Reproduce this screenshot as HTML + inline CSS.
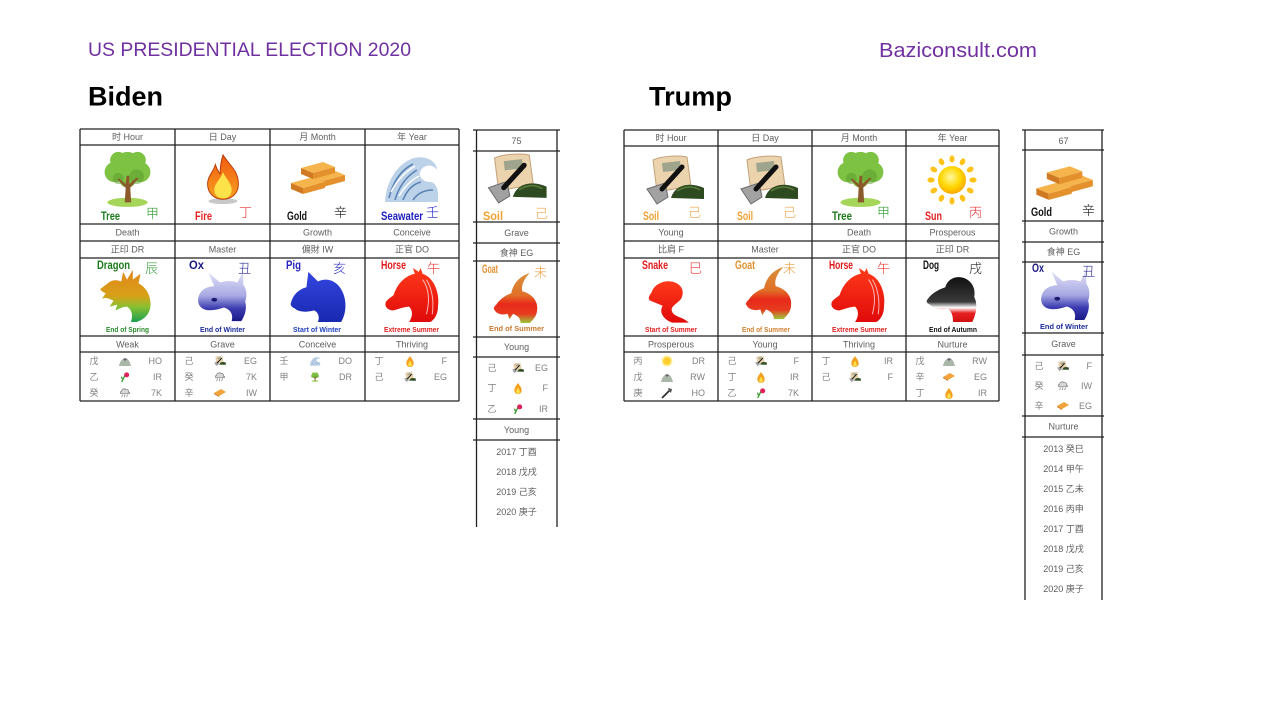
<!DOCTYPE html>
<html><head><meta charset="utf-8">
<style>
html,body{margin:0;padding:0;background:#fff;}
svg{display:block;}
.s{font-family:"Liberation Sans","Noto Sans CJK SC",sans-serif;font-size:9px;fill:#5e5e5e;text-anchor:middle;dominant-baseline:central;}
.h{font-family:"Liberation Sans","Noto Sans CJK SC",sans-serif;font-size:9px;fill:#808080;dominant-baseline:central;}
.hc{text-anchor:middle;}
.e{text-anchor:end;}
.lb{font-family:"Liberation Sans Narrow","Liberation Sans",sans-serif;font-weight:bold;font-size:11.5px;}
.cj{font-family:"Noto Sans CJK SC",sans-serif;font-size:13px;font-weight:300;}
.sub{font-family:"Liberation Sans Narrow","Liberation Sans",sans-serif;font-weight:bold;font-size:7.5px;text-anchor:middle;}
.ln line{stroke:#222;stroke-width:1.3;}
</style></head><body>
<svg width="1280" height="720" viewBox="0 0 1280 720" xmlns="http://www.w3.org/2000/svg">
<defs>
<linearGradient id="gDragon" x1="0" y1="0" x2="0" y2="1"><stop offset="0" stop-color="#e0861a"/><stop offset="0.5" stop-color="#d8a018"/><stop offset="0.7" stop-color="#8cc030"/><stop offset="1" stop-color="#1aa050"/></linearGradient>
<linearGradient id="gOx" x1="0" y1="0" x2="0" y2="1"><stop offset="0" stop-color="#e4e4f8"/><stop offset="0.5" stop-color="#a8a8e4"/><stop offset="0.75" stop-color="#3c3cb0"/><stop offset="1" stop-color="#1a1a88"/></linearGradient>
<linearGradient id="gPig" x1="0" y1="0" x2="0" y2="1"><stop offset="0" stop-color="#3446e0"/><stop offset="1" stop-color="#1828b0"/></linearGradient>
<linearGradient id="gRed" x1="0" y1="0" x2="0" y2="1"><stop offset="0" stop-color="#ff3a1a"/><stop offset="1" stop-color="#e00a0a"/></linearGradient>
<linearGradient id="gGoat" x1="0" y1="0" x2="0" y2="1"><stop offset="0" stop-color="#d8903a"/><stop offset="0.45" stop-color="#e07028"/><stop offset="0.62" stop-color="#e82a1a"/><stop offset="0.82" stop-color="#e83a20"/><stop offset="1" stop-color="#9cc83a"/></linearGradient>
<linearGradient id="gDog" x1="0" y1="0" x2="0" y2="1"><stop offset="0" stop-color="#111"/><stop offset="0.55" stop-color="#3a3a3a"/><stop offset="0.68" stop-color="#fff"/><stop offset="0.8" stop-color="#e82020"/><stop offset="1" stop-color="#d01010"/></linearGradient>
<linearGradient id="gFire" x1="0" y1="0" x2="0" y2="1"><stop offset="0" stop-color="#f05a10"/><stop offset="1" stop-color="#f8a020"/></linearGradient>
<radialGradient id="gSun" cx="0.45" cy="0.4" r="0.6"><stop offset="0" stop-color="#fff8a0"/><stop offset="0.6" stop-color="#ffd700"/><stop offset="1" stop-color="#ffa800"/></radialGradient>

<symbol id="tree" viewBox="0 0 60 64">
<ellipse cx="30" cy="58" rx="22" ry="5" fill="#a5d65a"/>
<g fill="#7dc243"><circle cx="30" cy="17" r="14"/><circle cx="16" cy="25" r="11"/><circle cx="44" cy="25" r="11"/><circle cx="20" cy="12" r="9"/><circle cx="41" cy="12" r="9"/><circle cx="30" cy="33" r="9"/></g>
<g fill="#5e9e30" opacity="0.55"><circle cx="40" cy="30" r="8"/><circle cx="20" cy="32" r="6"/></g>
<path d="M27,58 L28,42 L19,33 L21,32 L28,38 L29,29 L32,29 L32,38 L40,31 L42,32 L33,42 L34,58 Z" fill="#8b5a2b"/>
</symbol>
<symbol id="fire" viewBox="0 0 40 54">
<ellipse cx="20" cy="50" rx="15" ry="3" fill="#c8c8c8"/>
<path d="M20,2 C26,12 36,18 36,32 C36,42 29,48 20,48 C11,48 4,42 4,32 C4,24 10,20 12,12 C14,18 16,20 17,22 C17,14 18,8 20,2 Z" fill="url(#gFire)" stroke="#b83a08" stroke-width="1"/>
<path d="M20,20 C24,28 29,32 29,38 C29,44 25,47 20,47 C15,47 11,44 11,38 C11,32 17,28 20,20 Z" fill="#fde24a"/>
</symbol>
<symbol id="bar" viewBox="0 0 34 18"><path d="M0,6 L22,0 L34,5 L12,11 Z" fill="#f6b44c"/><path d="M0,6 L12,11 L12,17 L0,12 Z" fill="#cf7a22"/><path d="M12,11 L34,5 L34,11 L12,17 Z" fill="#e4902c"/></symbol>
<symbol id="gold" viewBox="0 0 60 40"><use href="#bar" x="24" y="14" width="34" height="18"/><use href="#bar" x="4" y="21" width="34" height="18"/><use href="#bar" x="14" y="6" width="34" height="18"/></symbol>
<symbol id="wave" viewBox="0 0 56 52">
<path d="M2,50 C3,32 12,14 28,7 C40,2 54,8 54,18 C50,12 42,12 38,18 C34,24 40,30 47,30 C52,30 55,36 55,42 L55,50 Z" fill="#bcd2e8"/>
<path d="M6,46 C10,30 18,18 30,12 M12,48 C16,34 24,24 34,18 M20,48 C24,38 30,32 38,30 M30,48 C34,42 40,38 50,38" stroke="#5a82b4" stroke-width="1.6" fill="none"/>
<path d="M8,40 C14,28 22,20 32,14 M16,44 C22,34 28,28 36,24" stroke="#fff" stroke-width="1.4" fill="none"/>
</symbol>
<symbol id="soil" viewBox="0 0 60 50">
<path d="M8,5 C16,1 34,0 42,2 L46,31 L12,37 Z" fill="#ead3ad" stroke="#c4a27a" stroke-width="1"/>
<path d="M17,8 L35,6 L36,15 L18,17 Z" fill="#9ea58c"/>
<path d="M26,43 C30,29 46,27 59,33 L59,44 Z" fill="#2e4a20"/>
<path d="M32,36 C40,31 48,31 55,35" stroke="#5a7a3a" stroke-width="1.5" fill="none"/>
<path d="M2,34 L20,28 L23,42 L12,49 Z" fill="#a2a2a2" stroke="#6a6a6a" stroke-width="1"/>
<line x1="17" y1="34" x2="37" y2="12" stroke="#111" stroke-width="5" stroke-linecap="round"/>
</symbol>
<symbol id="sun" viewBox="0 0 50 50">
<g fill="#ffc21a">
<ellipse cx="25" cy="4" rx="2.6" ry="3.6"/>
<ellipse cx="25" cy="4" rx="2.6" ry="3.6" transform="rotate(30 25 25)"/>
<ellipse cx="25" cy="4" rx="2.6" ry="3.6" transform="rotate(60 25 25)"/>
<ellipse cx="25" cy="4" rx="2.6" ry="3.6" transform="rotate(90 25 25)"/>
<ellipse cx="25" cy="4" rx="2.6" ry="3.6" transform="rotate(120 25 25)"/>
<ellipse cx="25" cy="4" rx="2.6" ry="3.6" transform="rotate(150 25 25)"/>
<ellipse cx="25" cy="4" rx="2.6" ry="3.6" transform="rotate(180 25 25)"/>
<ellipse cx="25" cy="4" rx="2.6" ry="3.6" transform="rotate(210 25 25)"/>
<ellipse cx="25" cy="4" rx="2.6" ry="3.6" transform="rotate(240 25 25)"/>
<ellipse cx="25" cy="4" rx="2.6" ry="3.6" transform="rotate(270 25 25)"/>
<ellipse cx="25" cy="4" rx="2.6" ry="3.6" transform="rotate(300 25 25)"/>
<ellipse cx="25" cy="4" rx="2.6" ry="3.6" transform="rotate(330 25 25)"/>
</g>
<circle cx="25" cy="25" r="14" fill="url(#gSun)"/>
</symbol>
<symbol id="dragon" viewBox="0 0 60 56"><path d="M2,22 L10,16 C14,12 20,12 24,14 L26,4 L30,12 L36,2 L36,12 L44,6 L42,16 C50,20 56,30 54,42 C52,50 46,54 40,56 L34,56 C36,50 36,44 30,40 C26,40 22,42 18,44 L20,38 L12,40 L16,34 C12,32 8,30 4,32 L8,26 C6,26 4,24 2,22 Z" fill="url(#gDragon)"/></symbol>
<symbol id="ox" viewBox="0 0 60 56"><path d="M6,30 C8,24 14,20 22,20 L16,6 L28,16 C34,14 40,14 46,16 L52,4 L52,18 C56,24 56,30 54,36 C56,42 54,50 50,56 L40,56 C42,48 38,44 32,42 C26,44 18,46 12,44 C6,42 4,36 6,30 Z" fill="url(#gOx)"/><ellipse cx="22" cy="34" rx="3" ry="2" fill="#1a1a70"/></symbol>
<symbol id="pig" viewBox="0 0 60 56"><path d="M2,36 C4,28 10,22 18,20 L20,4 L30,14 C38,10 48,12 54,22 C60,32 60,46 54,56 L30,56 C32,50 30,46 26,44 C20,46 10,46 6,42 C2,40 1,38 2,36 Z" fill="url(#gPig)"/></symbol>
<symbol id="horse" viewBox="0 0 60 56"><path d="M12,28 C16,16 24,8 34,6 L32,0 L38,4 L40,0 L42,6 C54,10 60,26 58,40 C58,48 54,54 50,56 L28,56 C32,50 32,44 28,40 C24,40 18,42 12,44 C6,44 2,40 4,35 C6,32 10,30 12,28 Z" fill="url(#gRed)"/><path d="M42,12 C48,20 50,32 46,48 M46,12 C52,22 54,34 52,48" stroke="#fff" stroke-width="1" fill="none" opacity="0.7"/></symbol>
<symbol id="snake" viewBox="0 0 60 56"><path d="M8,24 C10,16 20,10 30,12 C40,14 44,22 40,30 C36,36 28,38 30,44 C32,50 42,50 48,56 L30,56 C20,52 16,44 20,38 C16,36 10,34 6,32 C4,30 6,26 8,24 Z" fill="url(#gRed)"/></symbol>
<symbol id="goat" viewBox="0 0 60 56"><path d="M10,36 C14,30 20,26 26,24 C28,14 34,6 46,2 C40,8 36,16 38,22 C46,24 54,30 54,40 C54,48 50,52 46,56 L36,56 C36,50 32,48 28,46 L24,52 L22,46 C16,48 10,46 8,42 C6,40 8,38 10,36 Z" fill="url(#gGoat)"/></symbol>
<symbol id="dog" viewBox="0 0 60 56"><path d="M4,32 C8,26 16,22 22,20 C24,12 32,8 40,10 C48,12 54,20 52,30 C56,38 54,48 50,56 L30,56 C30,48 28,44 24,42 C18,44 10,42 6,38 C2,36 2,34 4,32 Z" fill="url(#gDog)"/></symbol>
<symbol id="mtn" viewBox="0 0 12 10"><path d="M0,10 C1,5 4,2 6,3 C8,1 11,5 12,10 Z" fill="#aab7a8"/><path d="M4,3 C5,2 7,2 8,3 L6,5 Z" fill="#667"/></symbol>
<symbol id="flower" viewBox="0 0 12 12"><path d="M2,12 L6,4" stroke="#3a9a30" stroke-width="1.6"/><path d="M3,9 C1,8 1,6 2,5 C3,7 4,8 3,9Z" fill="#3a9a30"/><circle cx="8" cy="3.5" r="3" fill="#e0205a"/></symbol>
<symbol id="rain" viewBox="0 0 12 12"><path d="M2,7 C0,7 0,4 2,4 C2,1 6,0 7,2 C9,1 11,3 10,5 C12,5 12,7 10,7 Z" fill="#d8d8d8" stroke="#777" stroke-width="0.8"/><path d="M3,8 L2,11 M6,8 L5,11 M9,8 L8,11" stroke="#777" stroke-width="0.8"/></symbol>
<symbol id="axe" viewBox="0 0 12 12"><path d="M1,11 L9,3" stroke="#333" stroke-width="1.8"/><path d="M7,1 L11,2 L10,6 L8,4 Z" fill="#555"/></symbol>
<symbol id="sgold" viewBox="0 0 12 8"><path d="M0,4 L7,0 L12,3 L5,7 Z" fill="#f2a33a"/><path d="M0,4 L5,7 L5,8 L0,5Z" fill="#c87020"/></symbol>
<symbol id="sfire" viewBox="0 0 10 12"><path d="M5,0 C7,3 9,5 9,8 C9,10.5 7,12 5,12 C3,12 1,10.5 1,8 C1,5 3,3 5,0 Z" fill="#f5a020"/><path d="M5,5 C6,7 7,8 7,9 C7,11 6,11.5 5,11.5 C4,11.5 3,11 3,9 C3,8 4,7 5,5Z" fill="#fde04a"/></symbol>
<symbol id="ssun" viewBox="0 0 12 12"><circle cx="6" cy="6" r="5.5" fill="#fff0a0"/><circle cx="6" cy="6" r="4" fill="#ffd030"/></symbol>
</defs>

<!-- Titles -->
<text x="88" y="56" font-family="Liberation Sans, sans-serif" font-size="19.5" fill="#7030a0" textLength="323" lengthAdjust="spacingAndGlyphs">US PRESIDENTIAL ELECTION 2020</text>
<text x="879" y="57" font-family="Liberation Sans, sans-serif" font-size="20.5" fill="#7030a0" textLength="158" lengthAdjust="spacingAndGlyphs">Baziconsult.com</text>
<text x="88" y="105.5" font-family="Liberation Sans, sans-serif" font-weight="bold" font-size="27" fill="#000" textLength="75" lengthAdjust="spacingAndGlyphs">Biden</text>
<text x="649" y="105.5" font-family="Liberation Sans, sans-serif" font-weight="bold" font-size="27" fill="#000" textLength="83" lengthAdjust="spacingAndGlyphs">Trump</text>

<!-- ============ BIDEN TABLE ============ -->
<g class="ln">
<line x1="80" y1="129" x2="459" y2="129"/><line x1="80" y1="145" x2="459" y2="145"/><line x1="80" y1="224" x2="459" y2="224"/><line x1="80" y1="241" x2="459" y2="241"/><line x1="80" y1="258" x2="459" y2="258"/><line x1="80" y1="336" x2="459" y2="336"/><line x1="80" y1="352" x2="459" y2="352"/><line x1="80" y1="401" x2="459" y2="401"/>
<line x1="80" y1="129" x2="80" y2="401"/><line x1="175" y1="129" x2="175" y2="401"/><line x1="270" y1="129" x2="270" y2="401"/><line x1="365" y1="129" x2="365" y2="401"/><line x1="459" y1="129" x2="459" y2="401"/>
</g>
<text class="s" x="127.5" y="137">时 Hour</text>
<text class="s" x="222.5" y="137">日 Day</text>
<text class="s" x="317.5" y="137">月 Month</text>
<text class="s" x="412" y="137">年 Year</text>

<use href="#tree" x="100" y="149" width="55" height="59"/>
<use href="#fire" x="203" y="153" width="40" height="52"/>
<use href="#gold" x="287" y="156" width="60" height="40"/>
<use href="#wave" x="383" y="152" width="56" height="52"/>

<text class="lb" x="101" y="220" textLength="19" lengthAdjust="spacingAndGlyphs" fill="#1c7a1c">Tree</text>
<text class="cj" x="146" y="218" fill="#2a9a2a">甲</text>
<text class="lb" x="195" y="220" textLength="17" lengthAdjust="spacingAndGlyphs" fill="#e82020">Fire</text>
<text class="cj" x="239" y="217" fill="#e83030">丁</text>
<text class="lb" x="287" y="220" textLength="20" lengthAdjust="spacingAndGlyphs" fill="#111">Gold</text>
<text class="cj" x="334" y="217" fill="#111">辛</text>
<text class="lb" x="381" y="220" textLength="42" lengthAdjust="spacingAndGlyphs" fill="#1c1cc0">Seawater</text>
<text class="cj" x="426" y="217" fill="#2020c8">壬</text>

<text class="s" x="127.5" y="232.5">Death</text>
<text class="s" x="317.5" y="232.5">Growth</text>
<text class="s" x="412" y="232.5">Conceive</text>
<text class="s" x="127.5" y="249.5">正印 DR</text>
<text class="s" x="222.5" y="249.5">Master</text>
<text class="s" x="317.5" y="249.5">偏財 IW</text>
<text class="s" x="412" y="249.5">正官 DO</text>

<use href="#dragon" x="98" y="268" width="58" height="54"/>
<use href="#ox" x="193" y="266" width="58" height="56"/>
<use href="#pig" x="289" y="268" width="58" height="54"/>
<use href="#horse" x="382" y="268" width="58" height="54"/>

<text class="lb" x="97" y="269" textLength="33" lengthAdjust="spacingAndGlyphs" fill="#1c7a1c">Dragon</text>
<text class="cj" x="145" y="273" fill="#3a9a3a">辰</text>
<text class="lb" x="189" y="269" textLength="15" lengthAdjust="spacingAndGlyphs" fill="#1a1a80">Ox</text>
<text class="cj" x="238" y="273" fill="#2a2a90">丑</text>
<text class="lb" x="286" y="269" textLength="15" lengthAdjust="spacingAndGlyphs" fill="#2828c0">Pig</text>
<text class="cj" x="333" y="273" fill="#3030c0">亥</text>
<text class="lb" x="381" y="269" textLength="25" lengthAdjust="spacingAndGlyphs" fill="#e01818">Horse</text>
<text class="cj" x="427" y="273" fill="#e83030">午</text>

<text class="sub" x="127.5" y="332" textLength="43" lengthAdjust="spacingAndGlyphs" fill="#2a8a2a">End of Spring</text>
<text class="sub" x="222.5" y="332" textLength="45" lengthAdjust="spacingAndGlyphs" fill="#1a2a9a">End of Winter</text>
<text class="sub" x="317" y="332" textLength="48" lengthAdjust="spacingAndGlyphs" fill="#2040c0">Start of Winter</text>
<text class="sub" x="411.5" y="332" textLength="55" lengthAdjust="spacingAndGlyphs" fill="#e02020">Extreme Summer</text>

<text class="s" x="127.5" y="344.5">Weak</text>
<text class="s" x="222.5" y="344.5">Grave</text>
<text class="s" x="317.5" y="344.5">Conceive</text>
<text class="s" x="412" y="344.5">Thriving</text>

<!-- Biden hidden stems -->
<text class="h hc" x="94" y="361">戊</text><use href="#mtn" x="119" y="356" width="12" height="10"/><text class="h e" x="162" y="361">HO</text>
<text class="h hc" x="94" y="377">乙</text><use href="#flower" x="119" y="372" width="12" height="10"/><text class="h e" x="162" y="377">IR</text>
<text class="h hc" x="94" y="393">癸</text><use href="#rain" x="119" y="388" width="12" height="10"/><text class="h e" x="162" y="393">7K</text>

<text class="h hc" x="189" y="361">己</text><use href="#soil" x="214" y="356" width="12" height="10"/><text class="h e" x="257" y="361">EG</text>
<text class="h hc" x="189" y="377">癸</text><use href="#rain" x="214" y="372" width="12" height="10"/><text class="h e" x="257" y="377">7K</text>
<text class="h hc" x="189" y="393">辛</text><use href="#sgold" x="214" y="389" width="12" height="8"/><text class="h e" x="257" y="393">IW</text>

<text class="h hc" x="284" y="361">壬</text><use href="#wave" x="309" y="356" width="12" height="10"/><text class="h e" x="352" y="361">DO</text>
<text class="h hc" x="284" y="377">甲</text><use href="#tree" x="309" y="372" width="12" height="10"/><text class="h e" x="352" y="377">DR</text>

<text class="h hc" x="379" y="361">丁</text><use href="#sfire" x="405" y="356" width="10" height="11"/><text class="h e" x="447" y="361">F</text>
<text class="h hc" x="379" y="377">己</text><use href="#soil" x="404" y="372" width="12" height="10"/><text class="h e" x="447" y="377">EG</text>

<!-- Biden side column -->
<g class="ln">
<line x1="473" y1="130" x2="560" y2="130"/><line x1="473" y1="151" x2="560" y2="151"/><line x1="473" y1="222" x2="560" y2="222"/><line x1="473" y1="243" x2="560" y2="243"/><line x1="473" y1="261" x2="560" y2="261"/><line x1="473" y1="337" x2="560" y2="337"/><line x1="473" y1="357" x2="560" y2="357"/><line x1="473" y1="419" x2="560" y2="419"/><line x1="473" y1="440" x2="560" y2="440"/>
<line x1="476.5" y1="130" x2="476.5" y2="527"/><line x1="557" y1="130" x2="557" y2="527"/>
</g>
<text class="s" x="516.5" y="141">75</text>
<use href="#soil" x="486" y="153" width="62" height="51"/>
<text class="lb" x="483" y="220" textLength="20" lengthAdjust="spacingAndGlyphs" fill="#f0a030">Soil</text>
<text class="cj" x="535" y="218" fill="#f0a040">己</text>
<text class="s" x="516.5" y="233">Grave</text>
<text class="s" x="516.5" y="253">食神 EG</text>
<use href="#goat" x="485" y="271" width="60" height="52"/>
<text class="lb" x="482" y="273" textLength="16" lengthAdjust="spacingAndGlyphs" fill="#e09030">Goat</text>
<text class="cj" x="534" y="277" fill="#e8a040">未</text>
<text class="sub" x="516.5" y="331" textLength="55" lengthAdjust="spacingAndGlyphs" fill="#c87a30">End of Summer</text>
<text class="s" x="516.5" y="347">Young</text>
<text class="h hc" x="492" y="368">己</text><use href="#soil" x="512" y="363" width="12" height="10"/><text class="h e" x="548" y="368">EG</text>
<text class="h hc" x="492" y="388">丁</text><use href="#sfire" x="513" y="383" width="10" height="11"/><text class="h e" x="548" y="388">F</text>
<text class="h hc" x="492" y="409">乙</text><use href="#flower" x="512" y="404" width="12" height="10"/><text class="h e" x="548" y="409">IR</text>
<text class="s" x="516.5" y="430">Young</text>
<text class="s" x="516.5" y="452">2017 丁酉</text>
<text class="s" x="516.5" y="472">2018 戊戌</text>
<text class="s" x="516.5" y="492">2019 己亥</text>
<text class="s" x="516.5" y="512">2020 庚子</text>

<!-- ============ TRUMP TABLE ============ -->
<g class="ln">
<line x1="624" y1="130" x2="999" y2="130"/><line x1="624" y1="146" x2="999" y2="146"/><line x1="624" y1="224" x2="999" y2="224"/><line x1="624" y1="241" x2="999" y2="241"/><line x1="624" y1="258" x2="999" y2="258"/><line x1="624" y1="336" x2="999" y2="336"/><line x1="624" y1="352" x2="999" y2="352"/><line x1="624" y1="401" x2="999" y2="401"/>
<line x1="624" y1="130" x2="624" y2="401"/><line x1="718" y1="130" x2="718" y2="401"/><line x1="812" y1="130" x2="812" y2="401"/><line x1="906" y1="130" x2="906" y2="401"/><line x1="999" y1="130" x2="999" y2="401"/>
</g>
<text class="s" x="671" y="138">时 Hour</text>
<text class="s" x="765" y="138">日 Day</text>
<text class="s" x="859" y="138">月 Month</text>
<text class="s" x="952.5" y="138">年 Year</text>

<use href="#soil" x="645" y="155" width="60" height="50"/>
<use href="#soil" x="739" y="155" width="60" height="50"/>
<use href="#tree" x="833" y="149" width="55" height="59"/>
<use href="#sun" x="927" y="155" width="50" height="50"/>

<text class="lb" x="643" y="220" textLength="16" lengthAdjust="spacingAndGlyphs" fill="#f0a030">Soil</text>
<text class="cj" x="688" y="217" fill="#f0a040">己</text>
<text class="lb" x="737" y="220" textLength="16" lengthAdjust="spacingAndGlyphs" fill="#f0a030">Soil</text>
<text class="cj" x="783" y="217" fill="#f0a040">己</text>
<text class="lb" x="832" y="220" textLength="20" lengthAdjust="spacingAndGlyphs" fill="#1c7a1c">Tree</text>
<text class="cj" x="877" y="217" fill="#2a9a2a">甲</text>
<text class="lb" x="925" y="220" textLength="17" lengthAdjust="spacingAndGlyphs" fill="#e82020">Sun</text>
<text class="cj" x="969" y="217" fill="#e83030">丙</text>

<text class="s" x="671" y="232.5">Young</text>
<text class="s" x="859" y="232.5">Death</text>
<text class="s" x="952.5" y="232.5">Prosperous</text>
<text class="s" x="671" y="249.5">比肩 F</text>
<text class="s" x="765" y="249.5">Master</text>
<text class="s" x="859" y="249.5">正官 DO</text>
<text class="s" x="952.5" y="249.5">正印 DR</text>

<use href="#snake" x="644" y="270" width="56" height="53"/>
<use href="#goat" x="739" y="262" width="58" height="60"/>
<use href="#horse" x="828" y="268" width="58" height="54"/>
<use href="#dog" x="924" y="268" width="58" height="54"/>

<text class="lb" x="642" y="269" textLength="26" lengthAdjust="spacingAndGlyphs" fill="#e01818">Snake</text>
<text class="cj" x="689" y="273" fill="#e83030">巳</text>
<text class="lb" x="735" y="269" textLength="20" lengthAdjust="spacingAndGlyphs" fill="#e09030">Goat</text>
<text class="cj" x="783" y="273" fill="#e8a040">未</text>
<text class="lb" x="829" y="269" textLength="24" lengthAdjust="spacingAndGlyphs" fill="#e01818">Horse</text>
<text class="cj" x="877" y="273" fill="#e83030">午</text>
<text class="lb" x="923" y="269" textLength="16" lengthAdjust="spacingAndGlyphs" fill="#111">Dog</text>
<text class="cj" x="969" y="273" fill="#222">戌</text>

<text class="sub" x="671" y="332" textLength="52" lengthAdjust="spacingAndGlyphs" fill="#e02020">Start of Summer</text>
<text class="sub" x="766" y="332" textLength="48" lengthAdjust="spacingAndGlyphs" fill="#d08030">End of Summer</text>
<text class="sub" x="859.5" y="332" textLength="55" lengthAdjust="spacingAndGlyphs" fill="#e02020">Extreme Summer</text>
<text class="sub" x="953" y="332" textLength="48" lengthAdjust="spacingAndGlyphs" fill="#111">End of Autumn</text>

<text class="s" x="671" y="344.5">Prosperous</text>
<text class="s" x="765" y="344.5">Young</text>
<text class="s" x="859" y="344.5">Thriving</text>
<text class="s" x="952.5" y="344.5">Nurture</text>

<!-- Trump hidden stems -->
<text class="h hc" x="638" y="361">丙</text><use href="#ssun" x="661" y="355" width="12" height="12"/><text class="h e" x="705" y="361">DR</text>
<text class="h hc" x="638" y="377">戊</text><use href="#mtn" x="661" y="372" width="12" height="10"/><text class="h e" x="705" y="377">RW</text>
<text class="h hc" x="638" y="393">庚</text><use href="#axe" x="661" y="387" width="12" height="12"/><text class="h e" x="705" y="393">HO</text>

<text class="h hc" x="732" y="361">己</text><use href="#soil" x="755" y="356" width="12" height="10"/><text class="h e" x="799" y="361">F</text>
<text class="h hc" x="732" y="377">丁</text><use href="#sfire" x="756" y="372" width="10" height="11"/><text class="h e" x="799" y="377">IR</text>
<text class="h hc" x="732" y="393">乙</text><use href="#flower" x="755" y="388" width="12" height="10"/><text class="h e" x="799" y="393">7K</text>

<text class="h hc" x="826" y="361">丁</text><use href="#sfire" x="850" y="356" width="10" height="11"/><text class="h e" x="893" y="361">IR</text>
<text class="h hc" x="826" y="377">己</text><use href="#soil" x="849" y="372" width="12" height="10"/><text class="h e" x="893" y="377">F</text>

<text class="h hc" x="920" y="361">戊</text><use href="#mtn" x="943" y="356" width="12" height="10"/><text class="h e" x="987" y="361">RW</text>
<text class="h hc" x="920" y="377">辛</text><use href="#sgold" x="943" y="373" width="12" height="8"/><text class="h e" x="987" y="377">EG</text>
<text class="h hc" x="920" y="393">丁</text><use href="#sfire" x="944" y="388" width="10" height="11"/><text class="h e" x="987" y="393">IR</text>

<!-- Trump side column -->
<g class="ln">
<line x1="1022" y1="130" x2="1104" y2="130"/><line x1="1022" y1="150" x2="1104" y2="150"/><line x1="1022" y1="221" x2="1104" y2="221"/><line x1="1022" y1="242" x2="1104" y2="242"/><line x1="1022" y1="262" x2="1104" y2="262"/><line x1="1022" y1="333" x2="1104" y2="333"/><line x1="1022" y1="355" x2="1104" y2="355"/><line x1="1022" y1="416" x2="1104" y2="416"/><line x1="1022" y1="437" x2="1104" y2="437"/>
<line x1="1025" y1="130" x2="1025" y2="600"/><line x1="1102" y1="130" x2="1102" y2="600"/>
</g>
<text class="s" x="1063.5" y="141">67</text>
<use href="#gold" x="1032" y="160" width="63" height="42"/>
<text class="lb" x="1031" y="216" textLength="21" lengthAdjust="spacingAndGlyphs" fill="#111">Gold</text>
<text class="cj" x="1082" y="215" fill="#111">辛</text>
<text class="s" x="1063.5" y="231.5">Growth</text>
<text class="s" x="1063.5" y="252">食神 EG</text>
<use href="#ox" x="1035" y="266" width="60" height="54"/>
<text class="lb" x="1032" y="272" textLength="12" lengthAdjust="spacingAndGlyphs" fill="#1a1a80">Ox</text>
<text class="cj" x="1082" y="276" fill="#2a2a90">丑</text>
<text class="sub" x="1064" y="329" textLength="48" lengthAdjust="spacingAndGlyphs" fill="#1a2a9a">End of Winter</text>
<text class="s" x="1063.5" y="344">Grave</text>
<text class="h hc" x="1039" y="366">己</text><use href="#soil" x="1057" y="361" width="12" height="10"/><text class="h e" x="1092" y="366">F</text>
<text class="h hc" x="1039" y="386">癸</text><use href="#rain" x="1057" y="381" width="12" height="10"/><text class="h e" x="1092" y="386">IW</text>
<text class="h hc" x="1039" y="406">辛</text><use href="#sgold" x="1057" y="402" width="12" height="8"/><text class="h e" x="1092" y="406">EG</text>
<text class="s" x="1063.5" y="426.5">Nurture</text>
<text class="s" x="1063.5" y="449">2013 癸巳</text>
<text class="s" x="1063.5" y="469">2014 甲午</text>
<text class="s" x="1063.5" y="489">2015 乙未</text>
<text class="s" x="1063.5" y="509">2016 丙申</text>
<text class="s" x="1063.5" y="529">2017 丁酉</text>
<text class="s" x="1063.5" y="549">2018 戊戌</text>
<text class="s" x="1063.5" y="569">2019 己亥</text>
<text class="s" x="1063.5" y="589">2020 庚子</text>
</svg>
</body></html>
